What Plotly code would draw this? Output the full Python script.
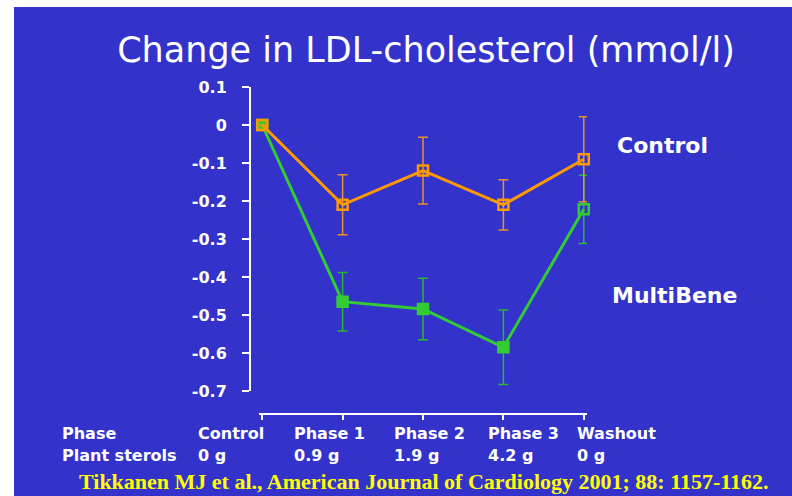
import plotly.graph_objects as go

# ---- data ----
phases = ["Control", "Phase 1", "Phase 2", "Phase 3", "Washout"]
sterols = ["0 g", "0.9 g", "1.9 g", "4.2 g", "0 g"]
x_idx = [0, 1, 2, 3, 4]
control_vals = [0.0, -0.21, -0.12, -0.21, -0.09]
control_err = [0.0, 0.079, 0.088, 0.066, 0.112]
multibene_vals = [0.0, -0.465, -0.484, -0.585, -0.222]
multibene_err = [0.0, 0.077, 0.081, 0.098, 0.09]
y_ticks = [0.1, 0, -0.1, -0.2, -0.3, -0.4, -0.5, -0.6, -0.7]
y_tick_text = ["0.1", "0", "-0.1", "-0.2", "-0.3", "-0.4", "-0.5", "-0.6", "-0.7"]
title_text = "Change in LDL-cholesterol (mmol/l)"
citation = "Tikkanen MJ et al., American Journal of Cardiology 2001; 88: 1157-1162."

# ---- style / layout constants ----
W, H = 792, 496
BG = "#3333CC"
ORANGE = "#FF9900"
ORANGE_EB = "#E8912A"
GREEN = "#33CC33"
GREEN_EB = "#2DB52D"
PL, PR, PT, PB = 250, 587, 87, 414   # plot area in pixels
pw, ph = PR - PL, PB - PT


def px(xp):
    return (xp - PL) / pw


def py(yp):
    return (PB - yp) / ph


fig = go.Figure()

fig.add_trace(go.Scatter(
    x=x_idx, y=multibene_vals, mode="lines+markers", name="MultiBene",
    line=dict(color=GREEN, width=3),
    marker=dict(symbol=["square", "square", "square", "square", "square-open"],
                size=10, color=GREEN, line=dict(color=GREEN, width=2.5)),
    error_y=dict(type="data", array=multibene_err, color=GREEN_EB,
                 thickness=1.5, width=5),
    cliponaxis=False, showlegend=False,
))
fig.add_trace(go.Scatter(
    x=x_idx, y=control_vals, mode="lines+markers", name="Control",
    line=dict(color=ORANGE, width=3),
    marker=dict(symbol="square-open", size=10, color=ORANGE,
                line=dict(color=ORANGE, width=2.5)),
    error_y=dict(type="data", array=control_err, color=ORANGE_EB,
                 thickness=1.5, width=5),
    cliponaxis=False, showlegend=False,
))

bold16 = dict(family="DejaVu Sans", size=16, color="white", weight="bold")
bold22 = dict(family="DejaVu Sans", size=22, color="white", weight="bold")

annotations = []
# series labels
annotations.append(dict(x=px(615), y=py(145), xref="paper", yref="paper",
                        text="Control", showarrow=False, xanchor="left",
                        yanchor="middle", font=bold22))
annotations.append(dict(x=px(610), y=py(295), xref="paper", yref="paper",
                        text="MultiBene", showarrow=False, xanchor="left",
                        yanchor="middle", font=bold22))
# table below axis
row_heads = ["Phase", "Plant sterols"]
col_x = [196, 292, 392, 486, 575]
row_y = [433, 455]
for ry, head in zip(row_y, row_heads):
    annotations.append(dict(x=px(60), y=py(ry), xref="paper", yref="paper",
                            text=head, showarrow=False, xanchor="left",
                            yanchor="middle", font=bold16))
for cx, ph_lab, st_lab in zip(col_x, phases, sterols):
    annotations.append(dict(x=px(cx), y=py(row_y[0]), xref="paper", yref="paper",
                            text=ph_lab, showarrow=False, xanchor="left",
                            yanchor="middle", font=bold16))
    annotations.append(dict(x=px(cx), y=py(row_y[1]), xref="paper", yref="paper",
                            text=st_lab, showarrow=False, xanchor="left",
                            yanchor="middle", font=bold16))
# citation
annotations.append(dict(x=px(424), y=py(481), xref="paper", yref="paper",
                        text=citation, showarrow=False, xanchor="center",
                        yanchor="middle",
                        font=dict(family="Liberation Serif", size=22,
                                  color="#FFFF00", weight="bold")))

shapes = [dict(type="rect", xref="paper", yref="paper", layer="below",
               x0=px(14), x1=px(800), y0=py(7), y1=py(510),
               fillcolor=BG, line=dict(width=0))]

x_dom0 = (259 - PL) / pw
y_dom0 = (PB - 391) / ph

fig.update_layout(
    width=W, height=H,
    margin=dict(l=PL, r=W - PR, t=PT, b=H - PB, pad=0),
    paper_bgcolor="white", plot_bgcolor="rgba(0,0,0,0)",
    title=dict(text=title_text, x=426 / W, y=1 - 50 / H, xref="container",
               yref="container", xanchor="center", yanchor="middle",
               font=dict(family="DejaVu Sans", size=35, color="white")),
    xaxis=dict(domain=[x_dom0, 1], range=[-0.04, 4.04], anchor="free",
               position=0, tickmode="array", tickvals=x_idx,
               showticklabels=False, ticks="outside", ticklen=5,
               tickcolor="white", tickwidth=2, showline=True,
               linecolor="white", linewidth=2, showgrid=False,
               zeroline=False, fixedrange=True),
    yaxis=dict(domain=[y_dom0, 1], range=[-0.7, 0.1], anchor="free",
               position=0, tickmode="array", tickvals=y_ticks,
               ticktext=y_tick_text, ticks="outside", ticklen=7,
               tickcolor="white", tickwidth=2, showline=True,
               linecolor="white", linewidth=2, showgrid=False,
               zeroline=False, tickfont=bold16, ticklabelstandoff=12),
    annotations=annotations, shapes=shapes, showlegend=False,
)

fig.write_html("out.html", config={"displayModeBar": False},
               post_script="document.body.style.margin='0';"
                           "document.body.style.overflow='hidden';")
